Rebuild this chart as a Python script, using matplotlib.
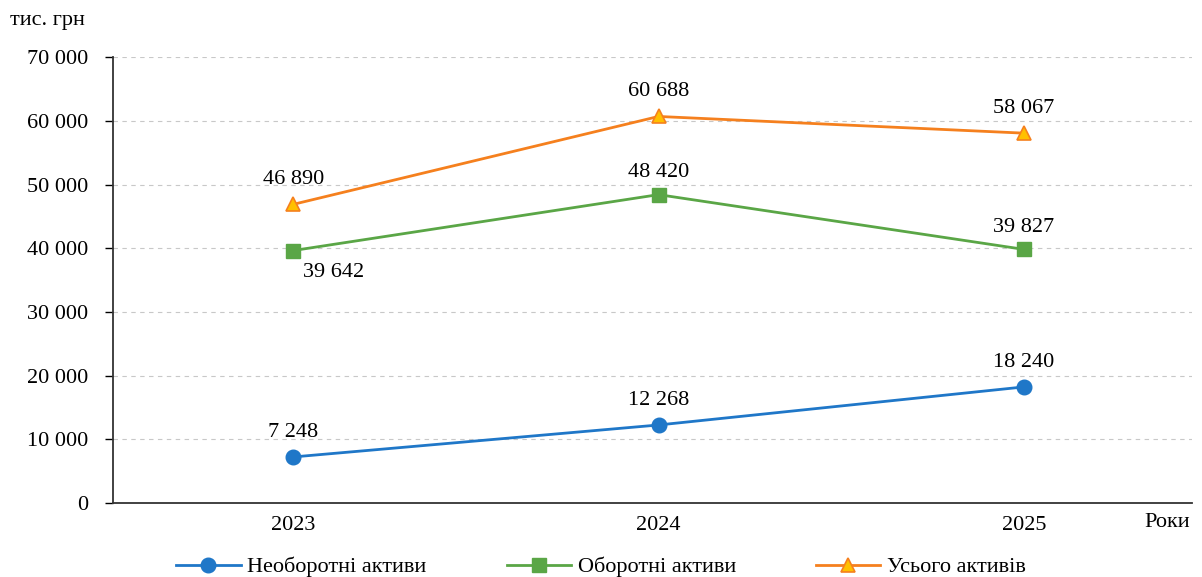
import matplotlib
matplotlib.use("Agg")
import matplotlib.pyplot as plt
from matplotlib.ticker import FuncFormatter

plt.rcParams['font.family'] = ['Liberation Serif', 'DejaVu Serif']

years = ["2023", "2024", "2025"]
non_current = [7248, 12268, 18240]
current = [39642, 48420, 39827]
total = [46890, 60688, 58067]
y_ticks = [0, 10000, 20000, 30000, 40000, 50000, 60000, 70000]

fig = plt.figure(figsize=(12.02, 5.77), dpi=100)
ax = fig.add_axes([0.094, 0.128, 0.898, 0.773])

x = list(range(len(years)))
blue = "#1f77c8"
green = "#5aa646"
orange = "#f5801e"

ax.plot(x, non_current, color=blue, lw=2.0, marker="o", ms=10.5,
        mfc=blue, mec=blue, label="Необоротні активи", zorder=3)
ax.plot(x, current, color=green, lw=2.0, marker="s", ms=10,
        mfc=green, mec=green, label="Оборотні активи", zorder=3)
ax.plot(x, total, color=orange, lw=2.0, marker="^", ms=10,
        mfc="#ffc000", mec=orange, mew=1.2, label="Усього активів", zorder=3)

def fmt(v):
    return f"{v:,}".replace(",", " ")

fs = 16
for i, v in enumerate(non_current):
    ax.annotate(fmt(v), (i, v), xytext=(0, 11), textcoords="offset points",
                ha="center", va="bottom", fontsize=fs)
for i, v in enumerate(current):
    if i == 0:
        ax.annotate(fmt(v), (i, v), xytext=(29, -9), textcoords="offset points",
                    ha="center", va="top", fontsize=fs)
    else:
        ax.annotate(fmt(v), (i, v), xytext=(0, 9), textcoords="offset points",
                    ha="center", va="bottom", fontsize=fs)
for i, v in enumerate(total):
    ax.annotate(fmt(v), (i, v), xytext=(0, 11), textcoords="offset points",
                ha="center", va="bottom", fontsize=fs)

ax.set_xlim(-0.493, 2.461)
ax.set_ylim(0, 70000)
ax.set_xticks(x)
ax.set_xticklabels(years, fontsize=fs)
ax.set_yticks(y_ticks)
ax.yaxis.set_major_formatter(FuncFormatter(lambda v, p: fmt(int(v))))
ax.tick_params(axis="y", labelsize=fs, length=6, width=1.0, pad=12)
ax.tick_params(axis="x", length=0, pad=9)

ax.grid(axis="y", color="#c8c8c8", linestyle=(0, (4, 4)), lw=0.8)
ax.set_axisbelow(True)
for s in ["top", "right"]:
    ax.spines[s].set_visible(False)
for s in ["left", "bottom"]:
    ax.spines[s].set_color("#333333")
    ax.spines[s].set_linewidth(1.3)

fig.text(0.008, 0.965, "тис. грн", fontsize=fs, ha="left", va="center")
fig.text(0.99, 0.094, "Роки", fontsize=fs, ha="right", va="center")

fig.legend(loc="center", bbox_to_anchor=(0.5, 0.017), ncol=3, frameon=False,
           fontsize=fs, columnspacing=3.6, handlelength=2.9, handletextpad=0.3)

fig.savefig("out.png", dpi=100)
